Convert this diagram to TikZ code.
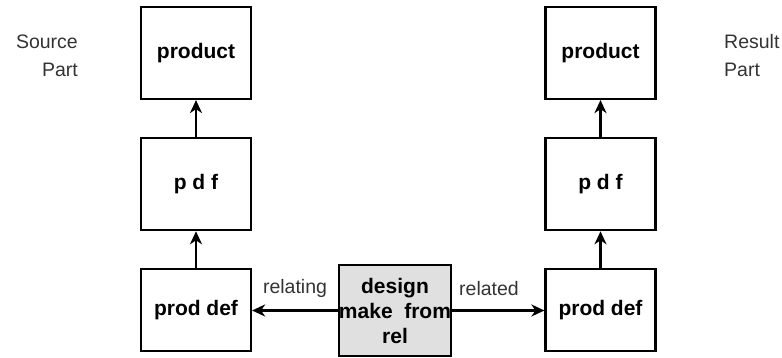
\documentclass[tikz,border=0pt]{standalone}
\usepackage{fontspec}
\setmainfont{Liberation Sans}
\usetikzlibrary{positioning,arrows.meta}

\begin{document}
\begin{tikzpicture}[x=1pt,y=1pt]
  \tikzstyle{box}=[draw, line width=2.2pt, rectangle, minimum width=110pt, minimum height=92pt, inner sep=0pt, align=center, font=\fontsize{21}{25}\selectfont\bfseries]
  \tikzstyle{link}=[line width=2.2pt, -{Stealth[length=13pt, width=12pt, inset=4pt]}]
  \tikzstyle{lbl}=[font=\fontsize{19.5}{28}\selectfont, text=black!80, inner sep=0pt]
  \useasboundingbox (0,0) rectangle (782,358);
  % left nodes
  \draw (196,305) node (prod1) [box] {product}
    node (pdf1) [box, below=37pt of prod1] {p d f}
    node (def1) [box, minimum height=82pt, below=37pt of pdf1] {prod def};
  \node (src) [lbl, align=right, anchor=east] at (78,302) {Source\\Part};
  % right nodes
  \draw (600.5,305) node (prod2) [box] {product}
    node (pdf2) [box, below=37pt of prod2] {p d f}
    node (def2) [box, minimum height=82pt, below=37pt of pdf2] {prod def};
  \node (res) [lbl, align=left, anchor=west] at (724,302) {Result\\Part};
  % middle node
  \node (dmf) [box, minimum height=91pt, fill=black!12] at (395,47.5) {design\\make~~from\\rel};
  % arrows
  \draw [link] (def1) -- (pdf1);
  \draw [link] (pdf1) -- (prod1);
  \draw [link] (def2) -- (pdf2);
  \draw [link] (pdf2) -- (prod2);
  \draw [link] (dmf.west) -- (def1.east |- dmf.west)
    node [lbl, pos=0.5, yshift=22pt] {relating};
  \draw [link] (dmf.east) -- (def2.west |- dmf.east)
    node [lbl, pos=0.4, yshift=22pt] {related};
\end{tikzpicture}
\end{document}
